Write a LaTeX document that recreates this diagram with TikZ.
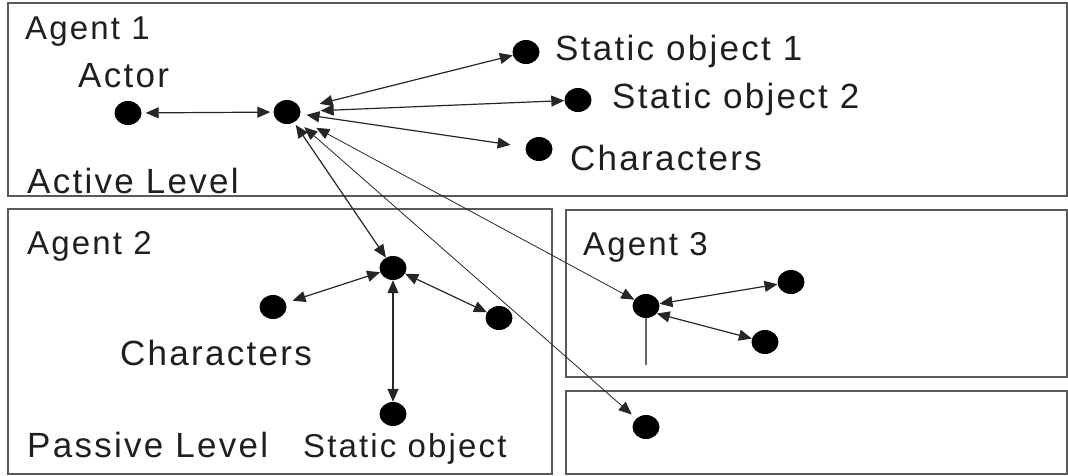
\documentclass[tikz,border=0pt]{standalone}
\usepackage{fontspec}
\usetikzlibrary{arrows.meta,shapes.geometric}
\newfontfamily\lblfont[LetterSpace=6.5]{Liberation Sans}
\begin{document}
\begin{tikzpicture}[x=1pt,y=-1pt,
  dot/.style={ellipse,fill=black,minimum width=27pt,minimum height=24pt,inner sep=0pt},
  lbl/.style={anchor=base west,inner sep=0pt,text=black!88,font=\lblfont\fontsize{35}{40}\selectfont},
  lblsm/.style={anchor=base west,inner sep=0pt,text=black!88,font=\lblfont\fontsize{33}{38}\selectfont},
  panel/.style={draw=black!65,line width=1.6pt},
  link/.style={draw=black!85,line width=1.2pt,{Triangle[length=13pt,width=11pt]}-{Triangle[length=13pt,width=11pt]}},
  thinlink/.style={draw=black!85,line width=0.8pt,{Triangle[length=13pt,width=11pt]}-{Triangle[length=13pt,width=11pt]}},
  plain/.style={draw=black!60,line width=1.4pt}
]
\useasboundingbox (0,0) rectangle (1068,475);
% panels
\draw[panel] (8,3) rectangle (1067,196);
\draw[panel] (8,209) rectangle (552,474);
\draw[panel] (566,210) rectangle (1067,377);
\draw[panel] (566,391) rectangle (1067,474);
% nodes
\node[dot] (actor) at (128,113) {};
\node[dot] (h1) at (287,112) {};
\node[dot] (s1) at (526,52) {};
\node[dot] (s2) at (578,100) {};
\node[dot] (c1) at (539,149) {};
\node[dot] (h2) at (393,268) {};
\node[dot] (c2l) at (273,307) {};
\node[dot] (c2r) at (499,318) {};
\node[dot] (sb) at (393,414) {};
\node[dot] (h3) at (646,306) {};
\node[dot] (r1) at (791,282) {};
\node[dot] (r2) at (765,342) {};
\node[dot] (b4) at (646,427) {};
\coordinate (v3) at (646,365);
% connectors
\draw[link,shorten <=4pt,shorten >=3pt] (actor) -- (h1);
\draw[link,shorten <=20pt] (h1) -- (s1);
\draw[link,shorten <=20pt] (h1) -- (s2);
\draw[link,shorten <=6pt,shorten >=15pt] (h1) -- (c1);
\draw[link,shorten <=3pt] (h1) -- (h2);
\draw[thinlink,shorten <=10pt,shorten >=6pt] (h1) -- (b4);
\draw[thinlink,shorten <=20pt] (h1) -- (h3);
\draw[link,shorten >=7pt] (h2) -- (c2l);
\draw[link] (h2) -- (c2r);
\draw[link] (h2) -- (sb);
\draw[link] (h3) -- (r1);
\draw[link] (h3.-35) -- (r2);
\draw[plain] (h3) -- (v3);
% labels
\node[lblsm] (tag1) at (25,39) {Agent 1};
\node[lbl] (tact) at (78,87) {Actor};
\node[lbl] (tal) at (27,193) {Active Level};
\node[lbl] (ts1) at (555,60) {Static object 1};
\node[lbl] (ts2) at (612,108) {Static object 2};
\node[lbl] (tc1) at (570,170) {Characters};
\node[lblsm] (tag2) at (27,254) {Agent 2};
\node[lbl] (tc2) at (120,365) {Characters};
\node[lbl] (tpl) at (27,457) {Passive Level};
\node[lblsm] (tsb) at (303,457) {Static object};
\node[lblsm] (tag3) at (583,255) {Agent 3};
\end{tikzpicture}
\end{document}
